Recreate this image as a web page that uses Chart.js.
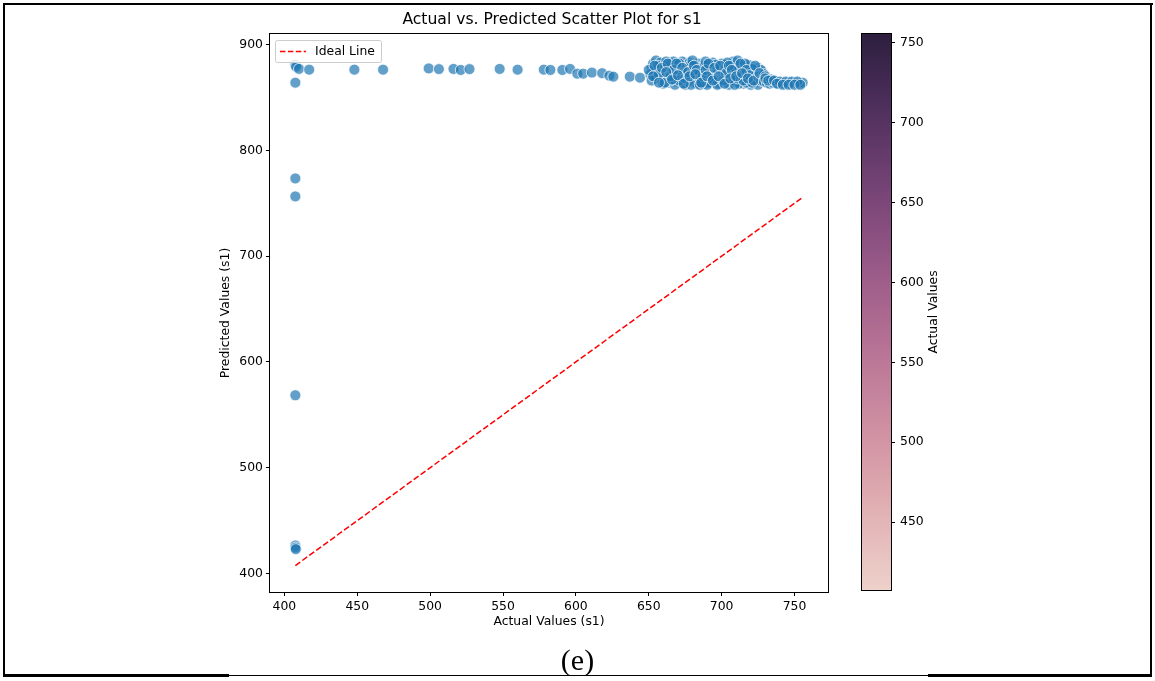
<!DOCTYPE html>
<html><head><meta charset="utf-8">
<script src="https://cdn.jsdelivr.net/npm/chart.js@4.4.1/dist/chart.umd.min.js"></script>
<style>
html,body{margin:0;padding:0;background:#fff;}
#wrap{position:relative;width:1155px;height:681px;overflow:hidden;background:#fff;}
canvas{position:absolute;left:0;top:0;}
.ln{position:absolute;background:#000;}
#cap{position:absolute;left:0;width:1155px;text-align:center;top:644px;line-height:32px;font-family:"Liberation Serif","Times New Roman",serif;font-size:30px;color:#000;}
</style></head>
<body>
<div id="wrap">
<canvas id="main" width="1155" height="681"></canvas>
<canvas id="cbar" width="1155" height="681"></canvas>
<div class="ln" style="left:3px;top:3px;width:1150px;height:2px"></div>
<div class="ln" style="left:3px;top:3px;width:2px;height:674px"></div>
<div class="ln" style="left:1150px;top:3px;width:2px;height:674px"></div>
<div class="ln" style="left:3px;top:674px;width:226px;height:3px"></div>
<div class="ln" style="left:229px;top:675px;width:700px;height:1px"></div>
<div class="ln" style="left:928px;top:674px;width:224px;height:3px"></div>
<div id="cap">(e)</div>
</div>
<script>
// ---------- data ----------
const chartTitle = 'Actual vs. Predicted Scatter Plot for s1';
const xLabel = 'Actual Values (s1)';
const yLabel = 'Predicted Values (s1)';
const cbLabel = 'Actual Values';
const legendLabel = 'Ideal Line';

const xTicks = [400, 450, 500, 550, 600, 650, 700, 750];
const yTicks = [400, 500, 600, 700, 800, 900];
const cbTicks = [450, 500, 550, 600, 650, 700, 750];

// [actual, predicted]
const leftColumn = [[407.5,881],[408,879],[410,877],[417,876.3],[407.5,864],[407.5,773.5],[407.5,756.5],[407.5,568.5],[407.5,426.5],[407.6,424.5],[407.8,423]];
const topRow = [[448,876.3],[467.7,876.3],[499,877.5],[506,876.8],[516,877],[521,876],[527,876.8],[547.7,877],[560,876.3],[578,876.3],[582.5,876],[590.7,876],[596,877],[601,872.5],[605,872.5],[611,873.5],[618,873],[623,870.6],[625.7,869.7],[637,869.7],[644,868.7]];
const cluster = [[652,878],[653,882],[655,885],[654,874],[656,870],[657,879],[658,883],[659,866],[660,872],[661,876],[662,880],[663,868],[664,864],[665,874],[666,882],[667,870],[668,877],[669,865],[670,880],[671,873],[672,868],[673,884],[674,876],[675,864],[676,871],[677,879],[678,883],[679,867],[680,874],[681,864],[682,878],[683,870],[684,882],[685,866],[686,875],[687,879],[688,863],[689,872],[690,880],[691,868],[692,876],[693,864],[694,883],[695,870],[696,874],[697,866],[698,879],[699,872],[700,864],[701,877],[702,881],[703,868],[704,874],[705,866],[706,879],[707,870],[708,884],[709,875],[710,865],[711,872],[712,880],[713,868],[714,876],[715,863],[716,878],[717,870],[718,874],[719,866],[720,880],[721,869],[722,876],[723,864],[724,872],[725,878],[726,866],[727,870],[728,874],
[651,872],[655,868],[658,876],[661,869],[664,879],[667,884],[670,866],[673,871],[676,877],[679,881],[682,866],[685,873],[688,880],[691,864],[694,871],[697,877],[700,882],[703,865],[706,872],[709,878],[712,864],[715,871],[718,881],[721,877],[724,867],[727,876],
[660,863],[668,862],[675,862],[683,863],[690,862],[698,863],[705,862],[712,863],[720,862],
[656,880],[662,884],[671,882],[680,885],[689,884],[696,881],[704,883],[711,885],[716,882],[665,866],[677,865],[686,868],[695,867],[707,866],[717,864],[725,862],
[650,876],[652,866],[654,880],[657,872],[659,878],[661,864],[663,882],[665,870],[667,876],[669,882],[671,866],[673,878],[675,868],[677,874],[679,862],[681,880],[683,876],[685,862],[687,870],[689,876],[691,882],[693,868],[695,878],[697,862],[699,880],[701,866],[703,873],[705,880],[707,876],[709,862],[711,868],[713,882],[715,866],[717,876],[719,871],[721,864],[723,880],[725,870],[727,866],[729,872],
[653,870],[657,864],[662,874],[666,867],[670,871],[674,863],[678,870],[682,872],[686,864],[690,870],[694,866],[698,870],[702,863],[706,868],[710,870],[714,873],[718,868],[722,866],[726,873],[730,870]];
const tail = [[729,865],[731,864],[733,863],[735,864],[737,865],[739,863],[741,864],[743,863],[745,864],[747,863],[749,864],[751,864],[753,863],[755.6,864],[730,868],[734,867],
[732,866],[736,866],[740,865],[744,865],[748,865],[752,865],[738,863],[742,862],[746,862],[750,862],[754,862]];

const actualMin = 407.5, actualMax = 755.6;
const idealLine = [actualMin, actualMax];
const xRange = [390.1, 773];
const yRange = [382.5, 910];

// ---------- chart ----------
const FONT = '"DejaVu Sans", Verdana, sans-serif';
const allPts = leftColumn.concat(topRow, cluster, tail).map(p => ({x: p[0], y: p[1]}));

const decor = {
  id: 'decor',
  afterDraw(chart) {
    const {ctx, chartArea: a} = chart;
    ctx.save();
    ctx.strokeStyle = '#000'; ctx.lineWidth = 1;
    ctx.strokeRect(a.left - 0.5, a.top - 0.5, a.right - a.left + 1, a.bottom - a.top + 1);
    // title
    ctx.fillStyle = '#000';
    ctx.font = '15.6px ' + FONT;
    ctx.textAlign = 'center'; ctx.textBaseline = 'middle';
    ctx.fillText(chartTitle, (a.left + a.right) / 2 + 3, 20);
    // legend
    const lx = 275.5, ly = 40.5, lw = 106, lh = 22;
    ctx.beginPath();
    if (ctx.roundRect) ctx.roundRect(lx, ly, lw, lh, 2); else ctx.rect(lx, ly, lw, lh);
    ctx.fillStyle = 'rgba(255,255,255,0.8)'; ctx.fill();
    ctx.strokeStyle = '#cccccc'; ctx.lineWidth = 1; ctx.stroke();
    ctx.beginPath();
    ctx.setLineDash([5.5, 2.4]);
    ctx.strokeStyle = 'red'; ctx.lineWidth = 1.5;
    ctx.moveTo(280, 51.5); ctx.lineTo(306, 51.5); ctx.stroke();
    ctx.setLineDash([]);
    ctx.fillStyle = '#000';
    ctx.font = '12.4px ' + FONT;
    ctx.textAlign = 'left'; ctx.textBaseline = 'middle';
    ctx.fillText(legendLabel, 315, 52);
    ctx.restore();
  }
};

const tickFont = {family: FONT, size: 12.4};

new Chart(document.getElementById('main'), {
  type: 'scatter',
  data: {
    datasets: [
      {
        label: 'points',
        data: allPts,
        backgroundColor: 'rgba(31,119,180,0.7)',
        borderColor: 'rgba(255,255,255,0.75)',
        borderWidth: 1,
        pointRadius: 5.5,
        pointHoverRadius: 5.5
      },
      {
        type: 'line',
        label: legendLabel,
        data: idealLine.map(v => ({x: v, y: v})),
        borderColor: 'red',
        borderWidth: 1.5,
        borderDash: [6, 2.6],
        pointRadius: 0,
        fill: false
      }
    ]
  },
  options: {
    responsive: false,
    animation: false,
    events: [],
    layout: {padding: {left: 210, right: 327, top: 34, bottom: 49}},
    plugins: {legend: {display: false}, title: {display: false}, tooltip: {enabled: false}},
    scales: {
      x: {
        type: 'linear', min: xRange[0], max: xRange[1],
        afterBuildTicks: s => { s.ticks = xTicks.map(v => ({value: v})); },
        afterFit: s => { s.height = 40; },
        ticks: {font: tickFont, color: '#000', padding: 3, maxRotation: 0, autoSkip: false},
        grid: {drawOnChartArea: false, drawTicks: true, tickLength: 4, tickColor: '#000', tickWidth: 1},
        border: {display: false},
        title: {display: true, text: xLabel, font: tickFont, color: '#000', padding: {top: 0, bottom: 3}}
      },
      y: {
        type: 'linear', min: yRange[0], max: yRange[1],
        afterBuildTicks: s => { s.ticks = yTicks.map(v => ({value: v})); },
        afterFit: s => { s.width = 60; },
        ticks: {font: tickFont, color: '#000', padding: 3, autoSkip: false},
        grid: {drawOnChartArea: false, drawTicks: true, tickLength: 4, tickColor: '#000', tickWidth: 1},
        border: {display: false},
        title: {display: true, text: yLabel, font: tickFont, color: '#000', padding: {top: 8, bottom: 0}}
      }
    }
  },
  plugins: [decor]
});

// ---------- colorbar ----------
function cubehelix(t) {
  const x = 0.85 + (0.15 - 0.85) * t;
  const a = 0.8 * x * (1 - x) / 2, phi = 2 * Math.PI * (0.4 * x);
  const c = Math.cos(phi), s = Math.sin(phi);
  const f = v => Math.round(Math.max(0, Math.min(1, v)) * 255);
  return 'rgb(' + f(x + a * (-0.14861 * c + 1.78277 * s)) + ',' + f(x + a * (-0.29227 * c - 0.90649 * s)) + ',' + f(x + a * (1.97294 * c)) + ')';
}
const cbDecor = {
  id: 'cbDecor',
  beforeDatasetsDraw(chart) {
    const {ctx, chartArea: a} = chart;
    ctx.save();
    const g = ctx.createLinearGradient(0, a.bottom, 0, a.top);
    for (let i = 0; i <= 40; i++) g.addColorStop(i / 40, cubehelix(i / 40));
    ctx.fillStyle = g;
    ctx.fillRect(a.left, a.top, a.right - a.left, a.bottom - a.top);
    ctx.strokeStyle = '#000'; ctx.lineWidth = 1;
    ctx.strokeRect(a.left - 0.5, a.top - 0.5, a.right - a.left + 1, a.bottom - a.top + 1);
    ctx.translate(934, (a.top + a.bottom) / 2);
    ctx.rotate(-Math.PI / 2);
    ctx.fillStyle = '#000';
    ctx.font = '12.4px ' + FONT;
    ctx.textAlign = 'center'; ctx.textBaseline = 'middle';
    ctx.fillText(cbLabel, 0, 0);
    ctx.restore();
  }
};
new Chart(document.getElementById('cbar'), {
  type: 'scatter',
  data: {datasets: []},
  options: {
    responsive: false,
    animation: false,
    events: [],
    layout: {padding: {left: 862, right: 204, top: 34, bottom: 91}},
    plugins: {legend: {display: false}, tooltip: {enabled: false}},
    scales: {
      x: {display: false, min: 0, max: 1},
      y: {
        position: 'right', min: actualMin, max: actualMax,
        afterBuildTicks: s => { s.ticks = cbTicks.map(v => ({value: v})); },
        afterFit: s => { s.width = 60; },
        ticks: {font: tickFont, color: '#000', padding: 5, autoSkip: false},
        grid: {drawOnChartArea: false, drawTicks: true, tickLength: 4, tickColor: '#000', tickWidth: 1},
        border: {display: false}
      }
    }
  },
  plugins: [cbDecor]
});
</script>
</body></html>
